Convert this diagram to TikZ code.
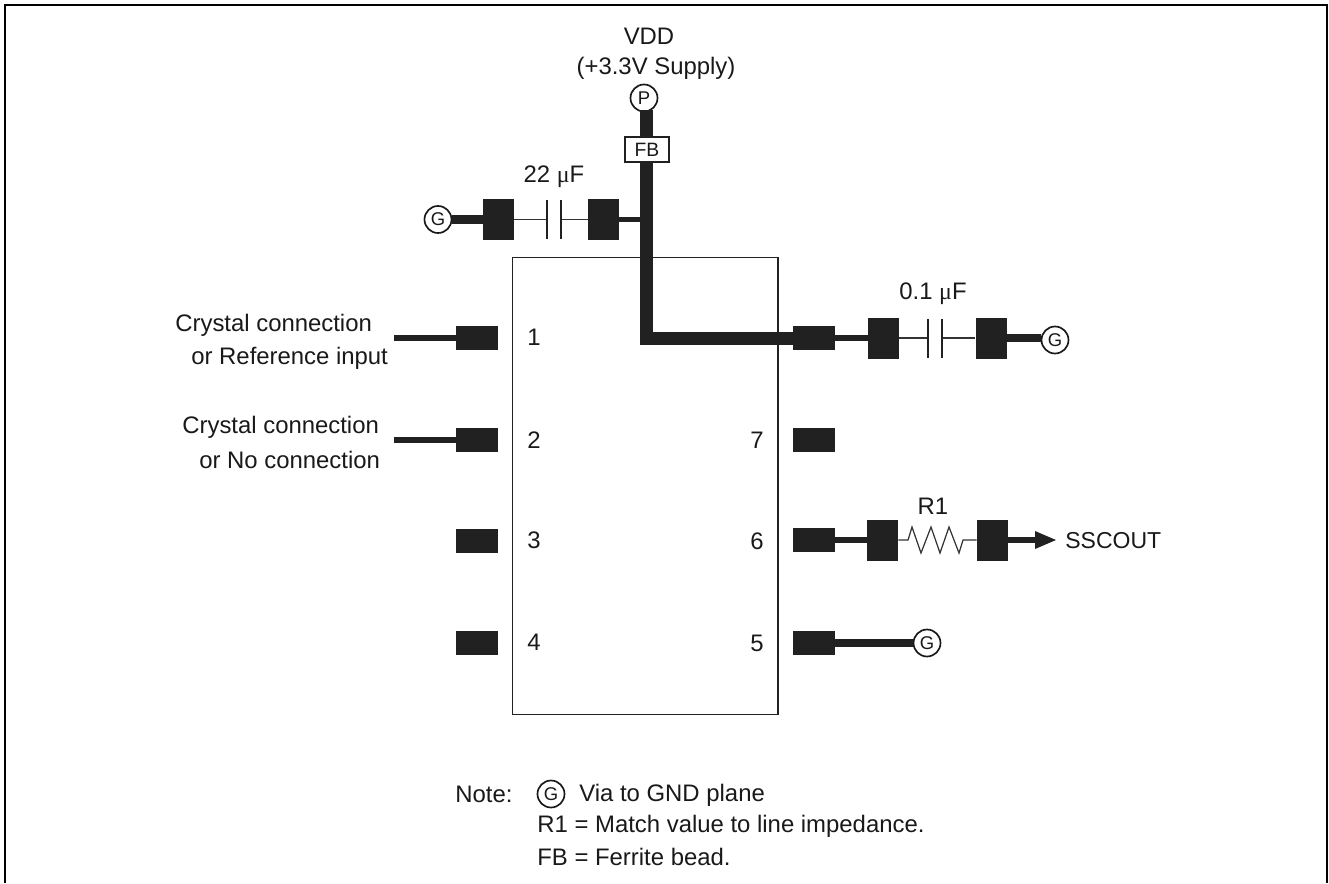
\documentclass[tikz,border=0pt]{standalone}
\usepackage{fontspec}
\setmainfont{Liberation Sans}
\newfontfamily\mufont{Liberation Serif}
\tikzset{
  x=0.02cm, y=-0.02cm,
  txt/.style={inner sep=0pt, font=\fontsize{13.6}{16}\selectfont, text=black!90},
  pad/.style={fill=black!87, inner sep=0pt, minimum width=0.84cm, minimum height=0.48cm},
  bigpad/.style={fill=black!87, inner sep=0pt, minimum width=0.62cm, minimum height=0.82cm},
  plate/.style={fill=black!87, inner sep=0pt, minimum width=0.035cm, minimum height=0.78cm},
  via/.style={circle, draw=black!90, fill=white, line width=0.95pt, inner sep=0pt, minimum size=0.54cm,
    font=\fontsize{10.5}{12}\selectfont, text=black!90},
  wire/.style={draw=black!80, line width=0.7pt},
  trace/.style={draw=black!87, line width=3pt},
  fattrace/.style={draw=black!87, line width=4.6pt},
  power/.style={draw=black!87, line width=7.4pt},
}
\begin{document}
\begin{tikzpicture}
  \useasboundingbox (0,0) rectangle (1329,883);
  % frame, open at the foot
  \draw[line width=1.15pt] (5,883) -- (5,5) -- (1327,5) -- (1327,883);
  % package body
  \node[draw=black!87, line width=0.6pt, inner sep=0pt, minimum width=5.32cm, minimum height=9.16cm] (chip) at (645,486) {};
  % pads and pin numbers
  \foreach \n/\y in {1/338,2/440,3/541,4/643} {
    \node[pad] (pad\n) at (477,\y) {};
  }
  \foreach \n/\y in {1/337,2/440,3/540,4/642} {
    \node[txt] (num\n) at (534,\y) {\n};
  }
  \foreach \n/\y in {8/338,7/440,6/540,5/643} {
    \node[pad] (pad\n) at (814,\y) {};
  }
  \foreach \n/\y in {7/440,6/541,5/643} {
    \node[txt] (num\n) at (757,\y) {\n};
  }
  % supply
  \node[txt] (vdd) at (649,36) {VDD};
  \node[txt] (supply) at (656,68) {(+3.3V Supply)};
  \node[via] (viap) at (644,98) {P};
  \coordinate (bend) at (646,338.5);
  \draw[power, line join=miter] (646,110) -- (bend) -- (pad8.west |- bend);
  \node[draw=black!87, fill=white, line width=0.6pt, inner sep=0pt, minimum width=0.88cm, minimum height=0.5cm,
    font=\fontsize{11}{13}\selectfont, text=black!90] (fb) at (647,149.5) {FB};
  % 22 uF
  \node[via] (viaa) at (438,219.5) {G};
  \node[bigpad] (capa1) at (498.5,219.5) {};
  \node[bigpad] (capa2) at (603.5,219.5) {};
  \node[plate] (capa3) at (547,219.5) {};
  \node[plate] (capa4) at (561,219.5) {};
  \node[txt] (capalabel) at (554,177) {22 {\mufont μ}F};
  \draw[fattrace] (viaa) -- (capa1);
  \draw[wire] (capa1) -- (capa3);
  \draw[wire] (capa4) -- (capa2);
  \draw[trace] (capa2.east) -- (640,219.5);
  % 0.1 uF
  \node[bigpad] (capb1) at (883.5,338) {};
  \node[bigpad] (capb2) at (991,338) {};
  \node[plate] (capb3) at (928,338) {};
  \node[plate] (capb4) at (942,338) {};
  \node[via] (viab) at (1055,340) {G};
  \node[txt] (capblabel) at (933,294) {0.1 {\mufont μ}F};
  \draw[trace] (pad8) -- (capb1);
  \draw[wire] (capb1) -- (capb3);
  \draw[wire] (capb4) -- (capb2);
  \draw[fattrace] (capb2.east) -- (viab.west |- capb2.east);
  % R1
  \node[bigpad] (resa) at (882.5,540) {};
  \node[bigpad] (resb) at (992.5,540) {};
  \node[txt] (reslabel) at (933,506) {R1};
  \node[txt, anchor=west, font=\fontsize{13.1}{16}\selectfont] (sscout) at (1065,541) {SSCOUT};
  \coordinate (ssctip) at (1056,540);
  \draw[trace] (pad6) -- (resa);
  \draw[wire] (resa.east) -- (908,540) -- (912,527) -- (921,553) -- (931,527) -- (940,553) -- (949,527) -- (959,553) -- (963,540) -- (resb.west);
  \draw[trace] (resb.east) -- (1037,540);
  \fill[black!87] (1035,531) -- (ssctip) -- (1035,549) -- cycle;
  % pin 5
  \node[via] (viac) at (927,643) {G};
  \draw[fattrace] (pad5) -- (viac);
  % crystal side
  \coordinate (xa) at (394,338);
  \coordinate (xb) at (394,440);
  \draw[trace] (xa) -- (pad1);
  \draw[trace] (xb) -- (pad2);
  \node[txt, anchor=west] (xtala) at (175,325) {Crystal connection};
  \node[txt, anchor=west] (xtalb) at (191,358) {or Reference input};
  \node[txt, anchor=west] (xtalc) at (182,427) {Crystal connection};
  \node[txt, anchor=west] (xtald) at (199,460) {or No connection};
  % notes
  \node[txt, anchor=west] (note) at (455,794) {Note:};
  \node[via] (vianote) at (551,794) {G};
  \node[txt, anchor=west] (notea) at (579,795) {Via to GND plane};
  \node[txt, anchor=west] (noteb) at (537,826) {R1 = Match value to line impedance.};
  \node[txt, anchor=west] (notec) at (537,857) {FB = Ferrite bead.};
\end{tikzpicture}
\end{document}
